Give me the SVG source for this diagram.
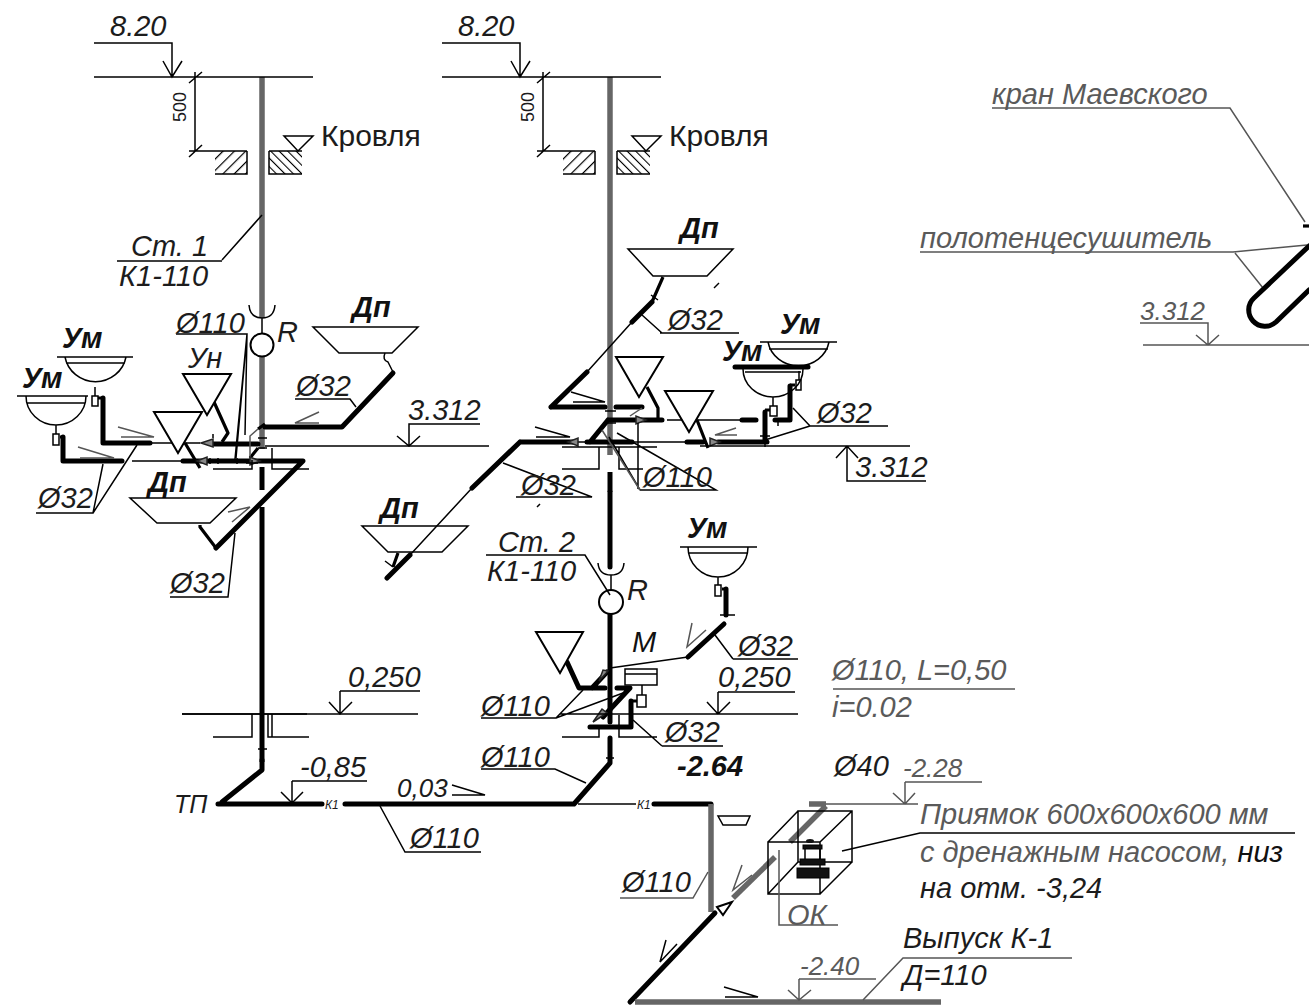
<svg xmlns="http://www.w3.org/2000/svg" width="1309" height="1006" viewBox="0 0 1309 1006">
<style>
text{font-family:"Liberation Sans",Arial,sans-serif;font-style:italic;font-size:29px;fill:#1c1c1c}
.g{fill:#5a5a5a}
.b{font-weight:bold;fill:#111}
.n{font-style:normal;font-size:30px}
.s{font-style:normal;font-size:18px}
.k{font-size:12px}
path,line,circle,rect{fill:none;stroke-linecap:butt}
.l{stroke:#000;stroke-width:1.5}
.lg{stroke:#555;stroke-width:1.5}
.p{stroke:#000;stroke-width:5;stroke-linecap:round;stroke-linejoin:round}
.m{stroke:#000;stroke-width:3.2;stroke-linejoin:round}
.r{stroke:#666;stroke-width:5.5}
.rb{stroke:#000;stroke-width:5}
.v{fill:#888;stroke:#222;stroke-width:1.5}
.w{fill:#fff;stroke:#000;stroke-width:2}
.h1{fill:url(#h1);stroke:none}
.h2{fill:url(#h2);stroke:none}
.f{fill:#111;stroke:#000}
</style>
<defs>
<pattern id="h1" width="8" height="8" patternUnits="userSpaceOnUse" patternTransform="rotate(45)"><line x1="0" y1="0" x2="0" y2="8" stroke="#000" stroke-width="2.4"/></pattern>
<pattern id="h2" width="6" height="6" patternUnits="userSpaceOnUse" patternTransform="rotate(-45)"><line x1="0" y1="0" x2="0" y2="6" stroke="#000" stroke-width="2.2"/></pattern>
<g id="roof">
<path class="l" d="M94 43H172V77M163 61L172 77L182 61M94 77H313M195 72V151M189 83L202 72M189 157L202 145M189 151H247M269 151H302"/>
<rect class="h1" x="215" y="151" width="32" height="23"/>
<path class="l" d="M215 174H247V151"/>
<rect class="h2" x="269" y="151" width="33" height="23"/>
<path class="l" d="M302 174H269V151M284 136H313L298 151Z"/>
</g>
</defs>

<g id="connectors">
<!-- riser 1 -->
<path class="r" d="M262 77V318M262 356V449"/>
<path class="rb" d="M262 467V490M262 507V762"/>
<path class="p" d="M262 760V770L222 802M218 804H322M345 804H574L610 763V738M610 722V614M610 567V492M654 804H711"/>
<!-- riser 2 -->
<path class="r" d="M610 77V455"/>
<path class="l" d="M578 804H636"/>
<path class="rb" d="M610 472V492"/>
<path class="r" stroke-width="4" d="M711 804V912"/>
<path class="p" d="M715 913L630 1002"/>
<path class="r" stroke-linecap="round" d="M635 1002H941"/>

<!-- left floor -->
<path class="p" d="M103 398V443H150M63 437V461H122M213 444H258M183 461H303L216 548"/>
<path class="l" d="M150 443H200M132 461H185M265 446H489"/>
<path class="m" d="M98 398H103M60 437H63M216 548L200 527V525M214 402L228 433L222 442M185 443L200 468"/>
<path class="p" d="M265 427H342L393 373"/>
<path class="l" d="M385 353Q382 360 388 362L393 372"/>
<path class="m" d="M258 448L250 458M265 424L258 429"/>
<path class="lg" stroke-width="2.5" d="M258 429L250 436V458"/>

<!-- right floor -->
<path class="p" d="M551 407H605M616 407H642M551 407L587 372M632 322L652 302M520 442H573M587 442H632M520 442L472 488M608 420H662M608 420L590 442"/>
<path class="l" d="M587 372L632 322M472 488L410 555M573 442H587M632 442H685M667 420H742"/>
<path class="p" d="M410 555L387 578M742 420H756M687 442H703M718 442H767M765 412V442M775 420H790V386"/>
<path class="m" d="M652 302L663 277M647 387L658 408V420M697 420L708 448M770 410H765M790 385H795M398 553L393 567"/>
<path class="lg" stroke-width="2.5" d="M642 408L630 416"/>

<!-- bottom fixtures -->
<path class="p" d="M726 589V615M724 624L688 657M567 662L579 688H605M592 688L607 672M617 688H630L603 717M631 701V727H590"/>
<path class="l" d="M688 657L610 668"/>
<path class="m" d="M637 701H631M722 589H726"/>

<!-- pit pipes -->
<path class="r" stroke-width="5" d="M733 898L775 857"/>
<path class="r" stroke-width="5.5" d="M790 842L826 806M809 804H826"/>
</g>

<g id="fittings">
<path class="v" d="M201 443L213 439V447Z M197 461L207 457V465Z M260 461L250 457V465Z"/>
<path class="v" d="M568 442L578 438V446Z M646 420L636 416V424Z M720 442L710 438V446Z M599 681L608 671L603 670Z M593 722L607 713L602 709Z"/>
<path class="w" stroke-width="1.5" d="M717 907L732 902L723 915Z"/>
<path class="l" d="M258 438H267M258 448H267M605 411H616M605 423H616M258 749H267M606 758H614M213 438V434M210 458V464M726 615H735M720 615H726M651 295L658 300M393 567L385 561"/>
<path class="l" stroke-width="2" d="M246 463H258M237 458V464M218 458V464M765 438V447M760 436H770M778 420V426"/>
</g>

<g id="roof-1"><use href="#roof"/></g>
<g id="roof-2"><use href="#roof" x="348"/></g>

<g id="text-roof">
<text x="110" y="36">8.20</text><text x="458" y="36">8.20</text>
<text class="s" transform="translate(186,122) rotate(-90)">500</text>
<text class="s" transform="translate(534,122) rotate(-90)">500</text>
<text class="n" x="321" y="146">Кровля</text><text class="n" x="669" y="146">Кровля</text>
</g>

<g id="socket-1">
<path class="l" stroke-width="2" d="M249 305Q250 318 262 318Q274 318 275 305M262 318V335"/>
<circle class="w" cx="262" cy="345" r="11.5"/>
<text x="277" y="342">R</text>
</g>
<g id="socket-2">
<path class="l" stroke-width="2" d="M598 563Q599 575 611 575Q623 575 624 563M611 575V590"/>
<circle class="w" cx="611" cy="602" r="12"/>
<text x="627" y="600">R</text>
</g>

<g id="labels-1">
<path class="l" d="M222 260L262 215M117 261H222M176 334H247L235 459M247 334L245 435M247 334L236 458M36 513H93L103 464M93 513L137 445M295 399H350L356 407M170 597H228L235 533M213 469H252V460M272 448V469H309M409 446V424H480M397 436L409 446L420 436M340 691H420M340 691V714M329 702L340 714L352 702"/>
<path class="lg" d="M118 427L154 437H121M78 447L114 458H80"/>
<path class="lg" stroke-width="2" d="M319 412L295 423H319M250 507L228 512M250 507L232 522"/>
<text x="131" y="256">Ст. 1</text><text x="119" y="286">К1-110</text>
<text x="176" y="333">Ø110</text>
<text x="38" y="508">Ø32</text>
<text x="296" y="396">Ø32</text>
<text x="170" y="593">Ø32</text>
<text x="408" y="420">3.312</text>
<text x="348" y="687">0,250</text>
</g>

<g id="level-1">
<path class="l" d="M182 714H418M252 714V737H213M268 714V737H309M272 714V737"/>
<path class="l" stroke-width="2.5" d="M182 714H307"/>
<path class="l" d="M292 781H367M292 781V803M281 792L292 803L303 792"/>
<path class="l" d="M452 785L485 795H452M380 806L405 852H481"/>
<text x="300" y="777">-0,85</text>
<text x="397" y="797" font-size="26" style="font-size:26px">0,03</text>
<text x="410" y="848">Ø110</text>
<text x="174" y="813" style="font-size:25px">ТП</text>
<text class="k" x="325" y="809">К1</text>
<text class="k" x="637" y="809">К1</text>
</g>

<g id="fixture-um-1">
<text class="b" x="62" y="348">Ум</text>
<path class="l" stroke-width="2" d="M57 357H133M66 363H125M65 357A31 30 0 0 0 126 357M95 387V396"/>
<rect class="l" x="92" y="396" width="6" height="10"/>
</g>
<g id="fixture-um-2">
<text class="b" x="22" y="388">Ум</text>
<path class="l" stroke-width="2" d="M17 396H88M27 403H85M26 396A30 29 0 0 0 86 396M56 425V434"/>
<rect class="l" x="53" y="434" width="6" height="11"/>
</g>
<g id="fixture-un">
<text x="188" y="368">Ун</text>
<path class="w" d="M183 374H231L207 415Z"/>
<path class="w" d="M154 412H202L178 453Z"/>
</g>
<g id="fixture-dp-1">
<text class="b" x="148" y="492">Дп</text>
<path class="l" stroke-width="2" d="M130 498H236L210 523H157Z"/>
</g>
<g id="fixture-dp-2">
<text class="b" x="352" y="317">Дп</text>
<path class="l" stroke-width="2" d="M313 327H418L392 353H339Z"/>
</g>
<g id="fixture-dp-3">
<text class="b" x="380" y="518">Дп</text>
<path class="l" stroke-width="2" d="M362 526H468L442 552H388Z"/>
</g>
<g id="fixture-dp-4">
<text class="b" x="680" y="238">Дп</text>
<path class="l" stroke-width="2" d="M628 249H733L707 276H653Z"/>
<path class="l" d="M714 288L719 283"/>
</g>
<g id="triangles-2">
<path class="w" d="M616 357H663L639 397Z"/>
<path class="w" d="M665 391H713L689 432Z"/>
<path class="w" d="M536 632H583L560 673Z"/>
</g>
<g id="fixture-um-3">
<text class="b" x="780" y="334">Ум</text>
<path class="l" stroke-width="2" d="M760 342H837M769 349H828M768 342A31 29 0 0 0 829 342M799 371V380"/>
<rect class="l" x="796" y="380" width="5" height="10"/>
</g>
<g id="fixture-um-4">
<text class="b" x="722" y="361">Ум</text>
<path class="p" d="M735 367H808"/>
<path class="l" stroke-width="2" d="M745 372H801M743 369A30 28 0 0 0 803 369M773 397V406"/>
<rect class="l" x="770" y="406" width="7" height="10"/>
</g>
<g id="fixture-um-5">
<text class="b" x="687" y="538">Ум</text>
<path class="l" stroke-width="2" d="M680 547H757M689 553H747M688 547A30 30 0 0 0 748 547M718 577V585"/>
<rect class="l" x="715" y="585" width="6" height="11"/>
</g>

<g id="labels-2">
<path class="l" d="M571 392L605 402H573M535 427L570 437H536M660 333H739M642 315L662 333M516 497H592L503 463M537 507L540 504M562 447H657M599 447V469H562M619 447V469H643M638 423V489M640 490H716L617 433M640 490L609 437"/>
<path class="lg" d="M640 490L602 430M736 428L715 435H737"/>
<path class="l" d="M810 426H888M810 426L765 440M810 426L793 408M700 446H910M847 446V481H926M836 458L847 446L858 458"/>
<text x="668" y="330">Ø32</text>
<text x="521" y="495">Ø32</text>
<text x="643" y="487">Ø110</text>
<text x="817" y="423">Ø32</text>
<text x="855" y="477">3.312</text>
</g>

<g id="labels-3">
<path class="l" d="M486 555H585L610 595M733 659H798M733 659L715 635M718 692H795M718 692V714M707 702L718 714L730 702M560 714H798M562 737H599V727M619 715V737H657M481 718H556L583 690M556 718L623 693M662 746H723M662 746L633 720M481 769H555L586 783"/>
<path class="lg" d="M706 630L687 647L692 623"/>
<rect class="l" x="625" y="669" width="32" height="16" stroke-width="2"/>
<path class="l" d="M625 674H657M642 685V695"/>
<rect class="l" x="637" y="695" width="9" height="12" stroke-width="2"/>
<text x="498" y="552">Ст. 2</text><text x="487" y="581">К1-110</text>
<text class="b" x="632" y="652" style="font-weight:normal;fill:#111">М</text>
<text x="738" y="656">Ø32</text>
<text x="718" y="687">0,250</text>
<text x="481" y="716">Ø110</text>
<text x="665" y="742">Ø32</text>
<text class="b" x="677" y="776">-2.64</text>
<text x="481" y="767">Ø110</text>
</g>

<g id="notes-1">
<path class="lg" d="M833 689H1015"/>
<text class="g" x="832" y="680">Ø110, L=0,50</text>
<text class="g" x="832" y="717">i=0.02</text>
<path class="lg" d="M826 804H918M905 782V804M893 793L905 804L915 793M905 782H982M920 833"/>
<text x="834" y="776">Ø40</text>
<text class="g" x="903" y="777" style="font-size:26px">-2.28</text>
</g>

<g id="pit">
<path class="l" stroke-width="2" d="M768 842H820V894H768ZM798 811H852V862H798ZM768 842L798 811M820 842L852 811M820 894L852 862M768 894L798 862"/>
<path class="l" stroke-width="2" d="M805 849V859M820 849V859"/>
<ellipse cx="810" cy="841" rx="4" ry="2" fill="#111"/>
<rect class="f" x="803" y="845" width="19" height="4"/>
<rect class="f" x="800" y="859" width="25" height="6"/>
<rect class="f" x="797" y="868" width="32" height="10"/>
<path class="l" d="M842 851L920 833H1295"/>
<path class="lg" d="M779 850V925H838"/>
<path class="l" d="M718 816H750L746 825H723Z" stroke-width="2"/>
<path class="lg" stroke-width="1.5" d="M742 865L733 890L752 875"/>
<path class="l" d="M677 944L660 962L666 940M724 987L758 997H725"/>
<path class="lg" d="M620 898H693L708 872M799 979H876M799 979V1000M788 990L799 1000L811 990M863 1000L903 958H1072"/>
<text class="g" x="787" y="925">ОК</text>
<text x="622" y="892">Ø110</text>
<text class="g" x="920" y="824">Приямок 600х600х600 мм</text>
<text class="g" x="920" y="862">с дренажным насосом, <tspan fill="#111" style="fill:#111">низ</tspan></text>
<text x="920" y="898">на отм. -3,24</text>
<text x="903" y="948">Выпуск  К-1</text>
<text x="903" y="985">Д=110</text>
<text class="g" x="800" y="975" style="font-size:26px">-2.40</text>
</g>

<g id="towel-rail">
<path class="lg" d="M992 108H1230L1305 222M920 252H1233L1307 245M1235 253L1263 288M1140 323H1208V345M1196 335L1208 345L1219 335M1143 345H1309"/>
<path class="m" stroke-width="2" d="M1303 226H1309"/>
<path class="p" d="M1309 246L1254 298A15.5 15.5 0 0 0 1276 322L1309 290"/>
<text class="g" x="992" y="104">кран Маевского</text>
<text class="g" x="920" y="248">полотенцесушитель</text>
<text class="g" x="1140" y="320" style="font-size:26px">3.312</text>
</g>
</svg>
